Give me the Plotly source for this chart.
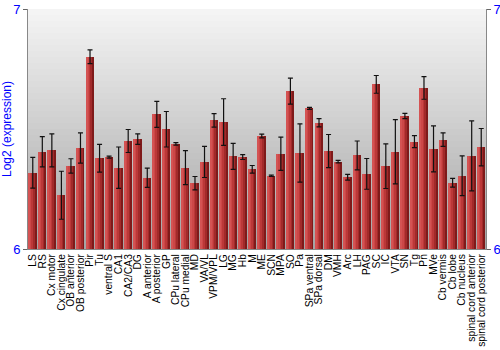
import plotly.graph_objects as go

categories = ["LS", "RS", "Cx motor", "Cx cingulate", "OB anterior", "OB posterior", "Pir", "Tu",
              "ventral S", "CA1", "CA2/CA3", "DG", "A anterior", "A posterior", "GP", "CPu lateral",
              "CPu medial", "MD", "VA/VL", "VPM/VPL", "LG", "MG", "Hb", "M", "ME", "SCN", "MPA",
              "SO", "Pa", "SPa ventral", "SPa dorsal", "DM", "VMH", "Arc", "LH", "PAG", "SC", "IC",
              "VTA", "SN", "Tg", "Pn", "MVe", "Cb vermis", "Cb lobe", "Cb nucleus",
              "spinal cord anterior", "spinal cord posterior"]
values = [6.318, 6.405, 6.411, 6.224, 6.346, 6.421, 6.801, 6.378,
          6.383, 6.339, 6.450, 6.458, 6.297, 6.561, 6.499, 6.438,
          6.339, 6.274, 6.363, 6.536, 6.529, 6.386, 6.383, 6.332, 6.471, 6.305, 6.397,
          6.658, 6.400, 6.586, 6.526, 6.408, 6.364, 6.299, 6.390, 6.313, 6.686, 6.345,
          6.405, 6.554, 6.447, 6.671, 6.417, 6.456, 6.276, 6.305,
          6.388, 6.424]
errors = [0.064, 0.063, 0.069, 0.100, 0.030, 0.063, 0.029, 0.058,
          0.004, 0.086, 0.048, 0.022, 0.040, 0.054, 0.074, 0.005,
          0.071, 0.028, 0.065, 0.028, 0.097, 0.054, 0.010, 0.016, 0.008, 0.003, 0.069,
          0.054, 0.121, 0.004, 0.017, 0.069, 0.005, 0.012, 0.060, 0.064, 0.037, 0.093,
          0.134, 0.011, 0.025, 0.047, 0.096, 0.028, 0.018, 0.083,
          0.146, 0.078]
y_ticks = [6, 7]

fig = go.Figure()

# background gradient in the plot area
n_strips = 40
for k in range(n_strips):
    t = k / (n_strips - 1)
    g = int(round(244 - (244 - 165) * t))
    fig.add_shape(type="rect", xref="x domain", yref="y domain",
                  x0=0, x1=1, y0=1 - (k + 1) / n_strips, y1=1 - k / n_strips,
                  fillcolor=f"rgb({g},{g},{g})", line=dict(width=0), layer="below")

# bars with a horizontal shading (several overlaid strips)
strips = [(0.84, "#7f1a1a"), (0.64, "#a22a2a"), (0.46, "#bb3838"), (0.28, "#cc4747"), (0.12, "#d45353")]
for w, col in strips:
    fig.add_trace(go.Bar(x=categories, y=values, width=w, offset=-0.42,
                         marker=dict(color=col, line=dict(width=0)),
                         hoverinfo="skip", showlegend=False))

# error bars
fig.add_trace(go.Scatter(x=categories, y=values, mode="markers",
                         marker=dict(size=0.1, color="rgba(0,0,0,0)"),
                         error_y=dict(type="data", array=errors, visible=True,
                                      color="#111111", thickness=1.2, width=2.5),
                         showlegend=False))

fig.add_trace(go.Scatter(x=[categories[0]], y=[6], yaxis="y2", mode="markers",
                         marker=dict(size=0.1, color="rgba(0,0,0,0)"),
                         showlegend=False, hoverinfo="skip"))

fig.update_layout(
    width=500, height=350,
    margin=dict(l=28, r=14, t=9, b=101),
    paper_bgcolor="white", plot_bgcolor="white",
    barmode="overlay", bargap=0,
    font=dict(family="Liberation Sans, Arial, sans-serif", size=11, color="black"),
    xaxis=dict(tickangle=-90, tickfont=dict(size=10.3, color="black"), showgrid=False,
               tickmode="linear", dtick=1, automargin=False,
               showline=True, linecolor="#888888", ticks="", ticklen=0,
               range=[-0.5, len(categories) - 0.5]),
    yaxis=dict(range=[6, 7], tickvals=y_ticks, ticktext=[str(v) for v in y_ticks],
               tickfont=dict(size=13, color="#0000ff"), showgrid=False, zeroline=False,
               automargin=False,
               showline=True, linecolor="#888888", ticks="outside", ticklen=4,
               tickcolor="#666666",
               title=dict(text="Log2 (expression)", font=dict(size=12, color="#0000ff"),
                          standoff=4)),
    yaxis2=dict(range=[6, 7], tickvals=y_ticks, ticktext=[str(v) for v in y_ticks],
                overlaying="y", side="right", automargin=False,
                tickfont=dict(size=13, color="#0000ff"), showgrid=False, zeroline=False,
                showline=True, linecolor="#888888", ticks="outside", ticklen=4,
                tickcolor="#666666"),
)

fig.write_html("out.html")
